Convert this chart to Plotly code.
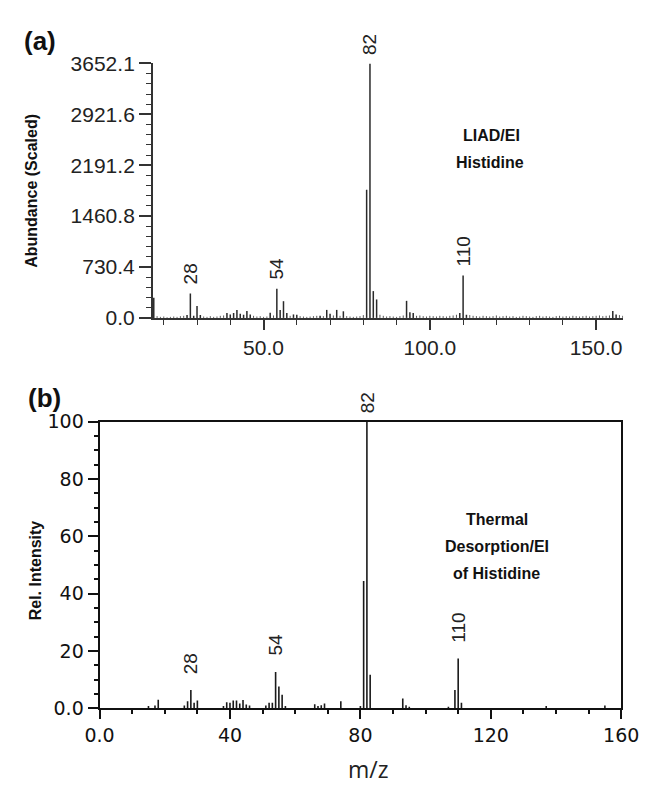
import plotly.graph_objects as go

W, H = 662, 797

# ---------------- data: (a) LIAD/EI Histidine ----------------
top_mz = [17, 27, 28, 29, 30, 31, 39, 40, 41, 42, 43, 44, 45, 46, 52, 54, 55, 56, 57,
          59, 60, 67, 69, 70, 72, 74, 81, 82, 83, 84, 93, 94, 95, 109, 110, 111, 155, 156]
top_abundance = [290, 40, 350, 30, 170, 40, 70, 50, 70, 115, 60, 45, 100, 50, 75, 420, 115, 240, 70,
                 50, 45, 30, 115, 60, 115, 95, 1840, 3652.1, 385, 265, 245, 80, 70, 70, 610, 45, 100, 50]

# small baseline (noise) lines of the scaled spectrum
baseline_mz = [18, 19, 20, 21, 22, 23, 24, 25, 26,
               32, 33, 34, 35, 36, 37, 38,
               47, 48, 49, 50, 51, 53,
               58, 61, 62, 63, 64, 65, 66, 68,
               71, 73, 75, 76, 77, 78, 79, 80,
               85, 86, 87, 88, 89, 90, 91, 92,
               96, 97, 98, 99, 100, 101, 102, 103, 104, 105, 106, 107, 108,
               112, 113, 114, 115, 116, 117, 118, 119, 120, 121, 122, 123, 124, 125, 126,
               127, 128, 129, 130, 131, 132, 133, 134, 135, 136, 137, 138, 139, 140,
               141, 142, 143, 144, 145, 146, 147, 148, 149, 150, 151, 152, 153, 154,
               157, 158]
baseline_abundance = [25, 15, 20, 10, 15, 20, 15, 25, 30,
                      20, 15, 25, 15, 20, 30, 35,
                      30, 20, 25, 15, 20, 35,
                      30, 25, 20, 15, 20, 25, 30, 25,
                      35, 30, 25, 20, 15, 20, 25, 40,
                      45, 30, 20, 25, 20, 15, 25, 35,
                      30, 35, 25, 20, 30, 25, 20, 30, 25, 20, 30, 35, 45,
                      40, 30, 25, 20, 30, 25, 20, 25, 35, 20, 25, 30, 20, 25, 15,
                      20, 30, 25, 20, 15, 25, 30, 20, 25, 20, 15, 25, 30, 20,
                      25, 20, 30, 25, 20, 25, 30, 20, 25, 30, 35, 25, 30, 35,
                      40, 30]

top_labels = [28, 54, 82, 110]
top_ytickvals = [0, 730.42, 1460.84, 2191.26, 2921.68, 3652.1]
top_yticktext = ["0.0", "730.4", "1460.8", "2191.2", "2921.6", "3652.1"]
top_xtickvals = [50, 100, 150]
top_xticktext = ["50.0", "100.0", "150.0"]

# ---------------- data: (b) Thermal desorption/EI ----------------
bot_mz = [15, 17, 18, 26, 27, 28, 29, 30, 38, 39, 40, 41, 42, 43, 44, 45, 46,
          51, 52, 53, 54, 55, 56, 57, 66, 67, 68, 69, 74, 80, 81, 82, 83,
          93, 94, 95, 107, 109, 110, 111, 137, 155]
bot_intensity = [0.8, 1.0, 3.0, 1.0, 2.5, 6.4, 1.9, 2.7, 0.8, 2.1, 1.9, 2.7, 2.7, 1.7, 2.9, 1.3, 1.0,
                 1.0, 1.9, 1.9, 12.7, 7.6, 4.7, 0.8, 1.4, 0.8, 1.1, 1.7, 2.5, 0.8, 44.4, 100, 11.7,
                 3.4, 1.1, 0.5, 0.5, 6.4, 17.4, 1.9, 0.8, 1.0]
bot_labels = [28, 54, 82, 110]
bot_ytickvals = [0, 20, 40, 60, 80, 100]
bot_yticktext = ["0.0", "20", "40", "60", "80", "100"]
bot_xtickvals = [0, 40, 80, 120, 160]
bot_xticktext = ["0.0", "40", "80", "120", "160"]


def sticks(xs, ys):
    X, Y = [], []
    for x, y in zip(xs, ys):
        X += [x, x, None]
        Y += [0, y, None]
    return X, Y


def px_x(p):
    return p / W


def px_y(p):
    return 1 - p / H


fig = go.Figure()

bx, by = sticks(baseline_mz, baseline_abundance)
fig.add_trace(go.Scatter(x=bx, y=by, mode="lines", line=dict(color="#555", width=1),
                         xaxis="x", yaxis="y", showlegend=False, hoverinfo="skip"))
tx, ty = sticks(top_mz, top_abundance)
fig.add_trace(go.Scatter(x=tx, y=ty, mode="lines", line=dict(color="#2a2a2a", width=1.5),
                         xaxis="x", yaxis="y", showlegend=False))
sx, sy = sticks(bot_mz, bot_intensity)
fig.add_trace(go.Scatter(x=sx, y=sy, mode="lines", line=dict(color="#1a1a1a", width=1.6),
                         xaxis="x2", yaxis="y2", showlegend=False))

arial = "Liberation Sans, Arial, sans-serif"
dejavu = "DejaVu Sans, Verdana, sans-serif"

fig.update_layout(
    width=W, height=H, autosize=False,
    margin=dict(l=0, r=0, t=0, b=0),
    paper_bgcolor="white", plot_bgcolor="white",
    xaxis=dict(domain=[px_x(145), px_x(640)], range=[16.7, 158.1], anchor="y",
               showgrid=False, zeroline=False, showline=True, linecolor="#333", linewidth=1.5,
               ticks="outside", ticklen=10, tickwidth=1.5, tickcolor="#333",
               tickmode="array", tickvals=top_xtickvals, ticktext=top_xticktext,
               tickfont=dict(family=arial, size=21, color="#222"),
               minor=dict(tickmode="linear", tick0=0, dtick=10, ticks="outside",
                          ticklen=5, tickwidth=1.2, tickcolor="#333", showgrid=False)),
    yaxis=dict(domain=[px_y(315), px_y(53)], range=[0, 3652.1], anchor="x",
               showgrid=False, zeroline=False, showline=True, linecolor="#333", linewidth=1.5,
               ticks="outside", ticklen=12, tickwidth=1.5, tickcolor="#333",
               tickmode="array", tickvals=top_ytickvals, ticktext=top_yticktext,
               tickfont=dict(family=arial, size=21, color="#222"),
               minor=dict(tickmode="linear", tick0=0, dtick=146.084, ticks="outside",
                          ticklen=5, tickwidth=1.2, tickcolor="#333", showgrid=False)),
    xaxis2=dict(domain=[px_x(89), px_x(638)], range=[0, 160], anchor="y2",
                showgrid=False, zeroline=False, showline=True, mirror=True,
                linecolor="#111", linewidth=2,
                ticks="outside", ticklen=9, tickwidth=2, tickcolor="#111",
                tickmode="array", tickvals=bot_xtickvals, ticktext=bot_xticktext,
                tickfont=dict(family=dejavu, size=19, color="#111"),
                minor=dict(tickmode="linear", tick0=0, dtick=10, ticks="outside",
                           ticklen=4, tickwidth=1.5, tickcolor="#111", showgrid=False)),
    yaxis2=dict(domain=[px_y(717), px_y(422)], range=[0, 100], anchor="x2",
                showgrid=False, zeroline=False, showline=True, mirror=True,
                linecolor="#111", linewidth=2,
                ticks="outside", ticklen=10, tickwidth=2, tickcolor="#111",
                tickmode="array", tickvals=bot_ytickvals, ticktext=bot_yticktext,
                tickfont=dict(family=dejavu, size=19, color="#111"),
                minor=dict(tickmode="linear", tick0=0, dtick=5, ticks="outside",
                           ticklen=4, tickwidth=1.5, tickcolor="#111", showgrid=False)),
)

ann = []
# peak labels (a)
top_lookup = dict(zip(top_mz, top_abundance))
for m in top_labels:
    ann.append(dict(x=m, y=top_lookup[m], xref="x", yref="y", text=str(m), textangle=-90,
                    showarrow=False, xanchor="center", yanchor="bottom", yshift=7,
                    font=dict(family=arial, size=19, color="#222")))
# peak labels (b)
bot_lookup = dict(zip(bot_mz, bot_intensity))
for m in bot_labels:
    ann.append(dict(x=m, y=bot_lookup[m], xref="x2", yref="y2", text=str(m), textangle=-90,
                    showarrow=False, xanchor="center", yanchor="bottom",
                    yshift=7 if m == 82 else 14,
                    font=dict(family=arial, size=19, color="#222")))


def paper_text(text, x, y, size, bold=True, family=arial, angle=0, color="#111"):
    ann.append(dict(x=px_x(x), y=px_y(y), xref="paper", yref="paper",
                    text=f"<b>{text}</b>" if bold else text, textangle=angle,
                    showarrow=False, xanchor="center", yanchor="middle",
                    font=dict(family=family, size=size, color=color)))


paper_text("(a)", 26, 30, 26)
paper_text("(b)", 31, 397, 26)
paper_text("Abundance (Scaled)", 18, 184, 16, angle=-90)
paper_text("Rel. Intensity", 22, 575, 16, angle=-90)
paper_text("LIAD/EI", 501, 127, 16)
paper_text("Histidine", 500, 155, 16)
paper_text("Thermal", 507, 523, 16)
paper_text("Desorption/EI", 507, 550, 16)
paper_text("of Histidine", 507, 578, 16)
paper_text("m/z", 372, 779, 23, bold=False, family="Open Sans, Liberation Sans, sans-serif", color="#222")

fig.update_layout(annotations=ann)

fig.write_html("out.html", config={"displayModeBar": False},
               post_script="document.body.style.margin='0';")
